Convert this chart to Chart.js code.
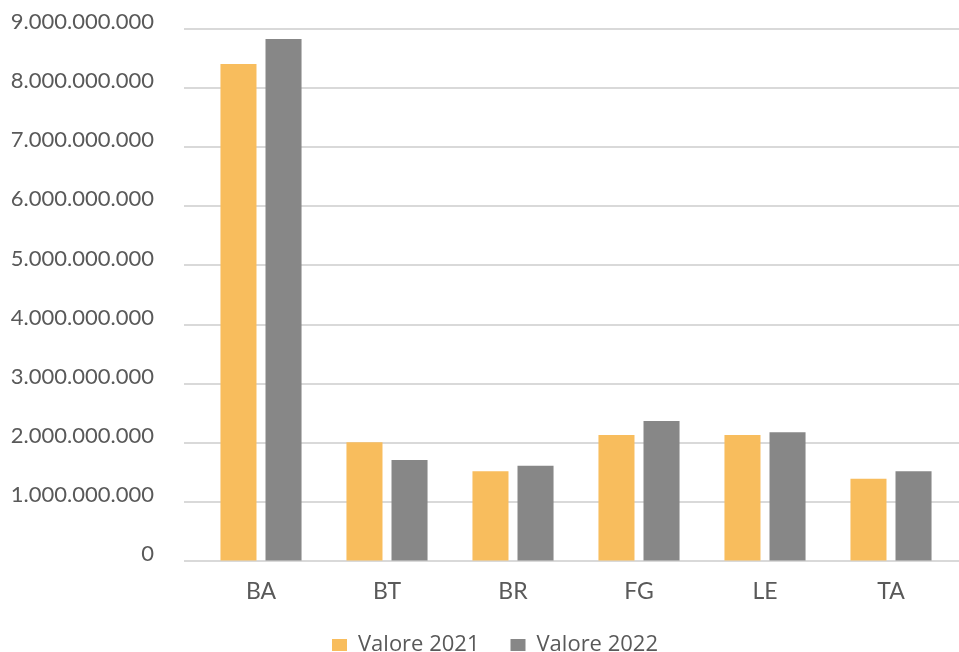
<!DOCTYPE html>
<html>
<head>
<meta charset="utf-8">
<script src="https://cdn.jsdelivr.net/npm/chart.js@4"></script>
<style>
  html, body { margin:0; padding:0; background:#fff; }
  #wrap { width:959px; height:652px; }
</style>
</head>
<body>
<div id="wrap"><canvas id="chart"></canvas></div>
<script>
// --- DATA ---
const provinces = ['BA', 'BT', 'BR', 'FG', 'LE', 'TA'];
const valore2021 = [8410000000, 2010000000, 1520000000, 2130000000, 2130000000, 1390000000];
const valore2022 = [8830000000, 1710000000, 1610000000, 2370000000, 2180000000, 1520000000];
const seriesNames = ['Valore 2021', 'Valore 2022'];

const TXT = '#595959';
const LEG_PAD = 31;

// 9000000000 -> 9.000.000.000
const fmtDots = (v) => String(Math.round(v)).replace(/\B(?=(\d{3})+(?!\d))/g, '.');

// horizontal gridlines, a bit wider than the plot (like the excel original)
const gridPlugin = {
    id: 'wideGrid',
    beforeDatasetsDraw(chart) {
        const {ctx, scales: {y}, chartArea} = chart;
        ctx.save();
        ctx.strokeStyle = '#d9d9d9';
        ctx.lineWidth = 2;
        y.ticks.forEach(t => {
            const py = Math.round(y.getPixelForValue(t.value));
            ctx.beginPath();
            ctx.moveTo(chartArea.left - 14, py);
            ctx.lineTo(959, py);
            ctx.stroke();
        });
        ctx.restore();
    }
};

// legend sits lower and a bit right, it is cut by the bottom edge in the reference
const legendShift = {
    id: 'legendShift',
    afterLayout(chart) {
        const lg = chart.legend;
        lg.left += 18; lg.right += 18;
        lg.top = 603; lg.height = 60; lg.bottom = lg.top + lg.height;
    }
};

new Chart(document.getElementById('chart'), {
    type: 'bar',
    data: {
        labels: provinces,
        datasets: [
            { label: seriesNames[0], data: valore2021, backgroundColor: '#f8bd5d' },
            { label: seriesNames[1], data: valore2022, backgroundColor: '#878787' }
        ]
    },
    options: {
        responsive: true, maintainAspectRatio: false, animation: false,
        layout: { padding: { left: 0, right: 5, top: 29, bottom: 0 } },
        datasets: { bar: { barPercentage: 0.8, categoryPercentage: 0.715 } },
        plugins: {
            tooltip: { enabled: false },
            legend: {
                position: 'bottom',
                maxHeight: 43,
                labels: {
                    color: TXT, boxWidth: 15, boxHeight: 12, padding: LEG_PAD,
                    font: { family: '"Open Sans"', size: 22 }
                }
            }
        },
        scales: {
            x: {
                grid: { display: false },
                border: { display: false },
                ticks: { color: TXT, padding: 9, font: { family: 'Lato', size: 23 } },
                afterFit: (s) => { s.height = 48; }
            },
            y: {
                min: 0, max: 9000000000,
                // grid kept only for the tick gap, lines come from wideGrid
                grid: { color: 'rgba(0,0,0,0)', drawTicks: true, tickLength: 44 },
                border: { display: false },
                ticks: {
                    stepSize: 1000000000, color: TXT, padding: 0, labelOffset: -7,
                    font: { family: 'Lato', size: 22 },
                    callback: (v) => fmtDots(v)
                },
                afterFit: (s) => { s.width = 198; }
            }
        }
    },
    plugins: [gridPlugin, legendShift]
});
</script>
</body>
</html>
